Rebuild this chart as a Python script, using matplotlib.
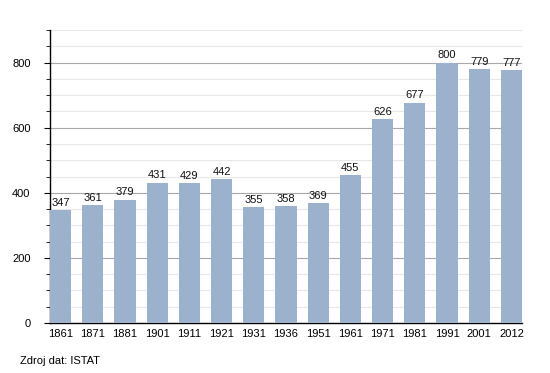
import matplotlib
matplotlib.use("Agg")
import matplotlib.pyplot as plt
from matplotlib.ticker import MultipleLocator

years = ["1861", "1871", "1881", "1901", "1911", "1921", "1931", "1936",
         "1951", "1961", "1971", "1981", "1991", "2001", "2012"]
population = [347, 361, 379, 431, 429, 442, 355, 358, 369, 455, 626, 677, 800, 779, 777]

plt.rcParams['font.family'] = ['Liberation Sans', 'DejaVu Sans']
fig = plt.figure(figsize=(5.5, 3.73), dpi=100)
ax = fig.add_axes([50/550, 1-323/373, 472/550, 293/373])

x = list(range(len(years)))
w = 0.66
ax.bar(x, population, width=w, color='#9bb1cc', zorder=3)
for xi, v in zip(x, population):
    ax.text(xi, v + 7, str(v), ha='center', va='bottom', fontsize=8, color='#111111', zorder=4)

ax.set_xlim(-w/2, len(years) - 1 + w/2)
ax.set_ylim(0, 900)
ax.set_xticks(x)
ax.set_xticklabels(years, fontsize=8)
ax.tick_params(axis='x', length=0, pad=4)
ax.yaxis.set_major_locator(MultipleLocator(200))
ax.yaxis.set_minor_locator(MultipleLocator(50))
ax.tick_params(axis='y', which='major', length=4, labelsize=8, pad=10)
ax.tick_params(axis='y', which='minor', length=3)
ax.grid(axis='y', which='major', color='#a8a8a8', linewidth=0.8, zorder=1)
ax.grid(axis='y', which='minor', color='#e8e8e8', linewidth=0.8, zorder=1)
for s in ['top', 'right']:
    ax.spines[s].set_visible(False)
ax.spines['left'].set_linewidth(1.0)
ax.spines['bottom'].set_linewidth(1.0)

fig.text(20/550, 1-361/373, "Zdroj dat: ISTAT", fontsize=8, ha='left', va='center')

fig.savefig("out.png", dpi=100)
